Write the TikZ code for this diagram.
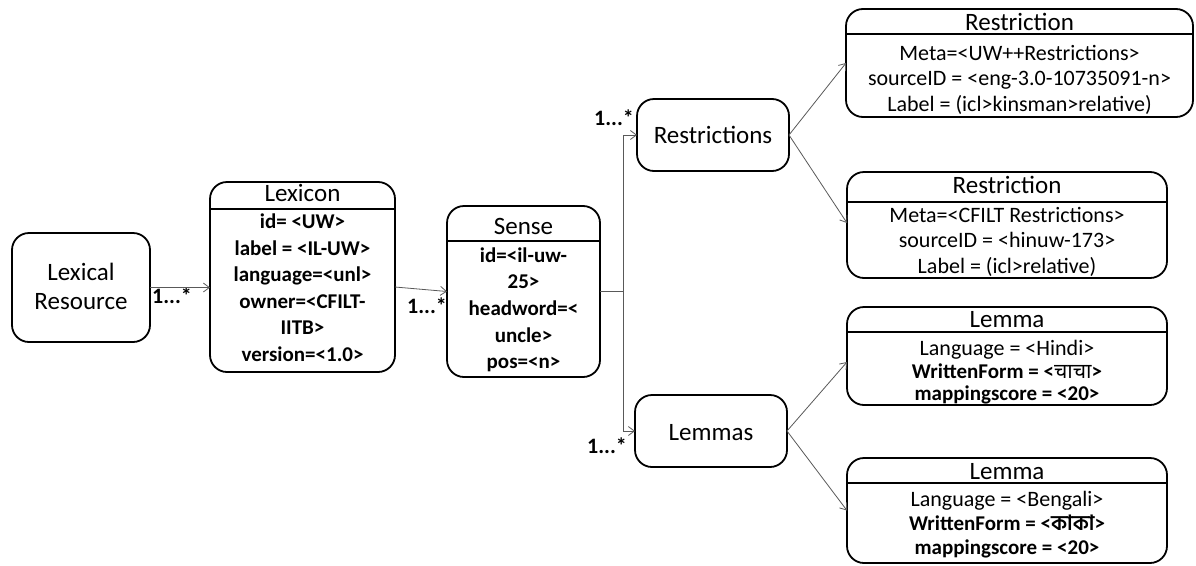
\documentclass[tikz,border=0pt]{standalone}
\usepackage{fontspec}
\setmainfont{Carlito}
\newfontfamily\devafont[Script=Devanagari]{Noto Sans}
\newfontfamily\bengfont[Script=Bengali]{Hind Siliguri}
\usetikzlibrary{arrows.meta}
\begin{document}
\begin{tikzpicture}[x=1pt,y=-1pt,
  box/.style={draw=black, line width=1.8pt, rounded corners=17pt, inner sep=0pt, outer sep=0pt},
  hdr/.style={draw=black, line width=1.8pt},
  ttl/.style={font=\fontsize{25}{30}\selectfont, anchor=base, inner sep=0pt},
  bd/.style={font=\fontsize{22}{26}\selectfont, anchor=base, inner sep=0pt},
  bb/.style={font=\bfseries\fontsize{21}{26}\selectfont, anchor=base, inner sep=0pt},
  card/.style={font=\bfseries\fontsize{22}{26}\selectfont, anchor=base west, inner sep=0pt},
  wire/.style={draw=black!65, line width=0.8pt},
  conn/.style={wire, -{Straight Barb[length=6pt,width=9pt]}}]
\useasboundingbox (0,0) rectangle (1196,565);

% boxes
\node[box, minimum width=138pt, minimum height=109pt] (lr) at (81,287.5) {};
\node[box, minimum width=185pt, minimum height=190pt] (lex) at (302.5,277) {};
\node[box, minimum width=153pt, minimum height=171pt] (sense) at (523.5,291.5) {};
\node[box, minimum width=152pt, minimum height=72pt] (rs) at (713,135) {};
\node[box, minimum width=152pt, minimum height=72pt] (lm) at (711,431) {};
\node[box, minimum width=347pt, minimum height=108pt] (r1) at (1019.5,63) {};
\node[box, minimum width=320pt, minimum height=106pt] (r2) at (1007,225) {};
\node[box, minimum width=320pt, minimum height=98pt] (l1) at (1007,356) {};
\node[box, minimum width=320pt, minimum height=105pt] (l2) at (1007,510.5) {};

% header lines
\draw[hdr] (210,209) -- (395,209);
\draw[hdr] (447,241) -- (600,241);
\draw[hdr] (846,34) -- (1193,34);
\draw[hdr] (847,202) -- (1167,202);
\draw[hdr] (847,332) -- (1167,332);
\draw[hdr] (847,483) -- (1167,483);

% Lexical Resource
\node[ttl] (lrt1) at (81,280) {Lexical};
\node[ttl] (lrt2) at (81,309) {Resource};

% Lexicon
\node[ttl] (lext) at (302.5,201) {Lexicon};
\node[bb] (lex1) at (302.5,228) {id= <UW>};
\node[bb] (lex2) at (302.5,255) {label = <IL-UW>};
\node[bb] (lex3) at (302.5,281) {language=<unl>};
\node[bb] (lex4) at (302.5,308) {owner=<CFILT-};
\node[bb] (lex5) at (302.5,334) {IITB>};
\node[bb] (lex6) at (302.5,361) {version=<1.0>};

% Sense
\node[ttl] (sent) at (523.5,234) {Sense};
\node[bb] (sen1) at (523.5,262) {id=<il-uw-};
\node[bb] (sen2) at (523.5,288) {25>};
\node[bb] (sen3) at (523.5,315) {headword=<};
\node[bb] (sen4) at (523.5,342) {uncle>};
\node[bb] (sen5) at (523.5,368) {pos=<n>};

% Restrictions / Lemmas
\node[ttl] (rst) at (713,143) {Restrictions};
\node[ttl] (lmt) at (711,440) {Lemmas};

% Restriction 1
\node[ttl] (r1t) at (1019.5,30) {Restriction};
\node[bd] (r1a) at (1019.5,60) {Meta=<UW++Restrictions>};
\node[bd] (r1b) at (1019.5,85.5) {sourceID = <eng-3.0-10735091-n>};
\node[bd] (r1c) at (1019.5,111) {Label = (icl>kinsman>relative)};

% Restriction 2
\node[ttl] (r2t) at (1007,193) {Restriction};
\node[bd] (r2a) at (1007,222) {Meta=<CFILT Restrictions>};
\node[bd] (r2b) at (1007,247.5) {sourceID = <hinuw-173>};
\node[bd] (r2c) at (1007,273) {Label = (icl>relative)};

% Lemma 1
\node[ttl] (l1t) at (1007,327) {Lemma};
\node[bd] (l1a) at (1007,355) {Language = <Hindi>};
\node[bb] (l1b) at (1007,378) {WrittenForm = <\smash{\devafont चाचा}>};
\node[bb] (l1c) at (1007,400) {mappingscore = <20>};

% Lemma 2
\node[ttl] (l2t) at (1007,479) {Lemma};
\node[bd] (l2a) at (1007,506) {Language = <Bengali>};
\node[bb] (l2b) at (1007,530) {WrittenForm = <\smash{\bengfont কাকা}>};
\node[bb] (l2c) at (1007,554) {mappingscore = <20>};

% cardinalities
\node[card] (m1) at (152,303) {1...*};
\node[card] (m2) at (407,313) {1...*};
\node[card] (m3) at (594,125) {1...*};
\node[card] (m4) at (587,453) {1...*};

% connectors
\coordinate (bx) at (623,0);
\draw[conn] (lr.east) -- (lr.east -| lex.west);
\draw[conn] ([yshift=-10pt]lex.east) -- (sense.west);
\draw[wire] (sense.east) -- (sense.east -| bx);
\draw[wire] (rs.west -| bx) -- (lm.west -| bx);
\draw[conn] (rs.west -| bx) -- (rs.west);
\draw[conn] (lm.west -| bx) -- (lm.west);
\draw[conn] (rs.east) -- (r1.west);
\draw[conn] (rs.east) -- ([yshift=2pt]r2.west);
\draw[conn] (lm.east) -- ([yshift=-6pt]l1.west);
\draw[conn] (lm.east) -- (l2.west);
\end{tikzpicture}
\end{document}
